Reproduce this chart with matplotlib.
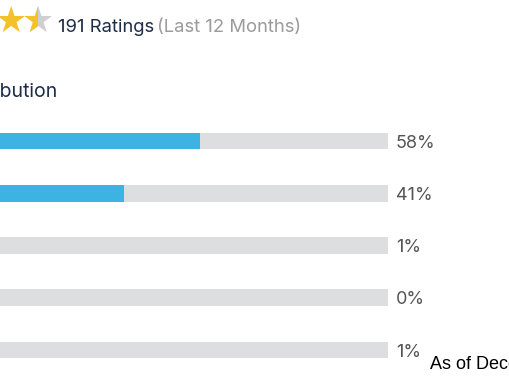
import matplotlib
matplotlib.use("Agg")
import matplotlib.pyplot as plt
from matplotlib.transforms import Bbox, TransformedBbox

# data
ratings = ["5 stars", "4 stars", "3 stars", "2 stars", "1 star"]
percent = [58, 41, 1, 0, 1]
n_ratings = 191
period = "(Last 12 Months)"
title = "Rating Distribution"
footer = "As of December"

W, H = 510, 382
navy = "#1d2d48"
grey_txt = "#555555"
light_txt = "#9b9b9b"
track = "#dcdee0"
blue = "#3db3e3"
gold = "#f3c22a"

plt.rcParams["font.family"] = ["Inter", "DejaVu Sans"]


def fx(px):
    return px / W


def fy(py):
    return 1 - py / H


fig = plt.figure(figsize=(W / 100, H / 100), dpi=100)

# star row (partly cut at the left edge like the screenshot)
star_kw = dict(family="DejaVu Sans", fontsize=26, ha="center", va="center")
fig.text(fx(11), fy(22), "\u2605", color=gold, **star_kw)
fig.text(fx(37.5), fy(22), "\u2605", color="#cfcfcf", **star_kw)
half = fig.text(fx(37.5), fy(22), "\u2605", color=gold, **star_kw)
half.set_clip_box(TransformedBbox(Bbox.from_extents(0, 0, fx(37.5), 1), fig.transFigure))
half.set_clip_on(True)

fig.text(fx(58), fy(32), f"{n_ratings} Ratings", fontsize=13.3, color=navy, va="baseline")
fig.text(fx(157), fy(32), period, fontsize=13.3, color=light_txt, va="baseline")

fig.text(fx(57), fy(97), title, fontsize=14, color=navy, ha="right", va="baseline")

# bars, axes starts off the left edge
ax = fig.add_axes([fx(-59), fy(376), 447 / W, (376 - 115) / H])
y = list(range(len(ratings)))
ax.barh(y, [100] * len(ratings), height=0.32, color=track)
ax.barh(y, percent, height=0.32, color=blue)
ax.set_xlim(0, 100)
ax.set_ylim(len(ratings) - 0.5, -0.5)
ax.axis("off")

for i, p in enumerate(percent):
    ax.annotate(f"{p}%", (100, i), xytext=(5.8, -4.8), textcoords="offset points",
                fontsize=13, color=grey_txt, va="baseline", ha="left")

fig.text(fx(430), fy(369), footer, family=["Liberation Sans", "DejaVu Sans"],
         fontsize=13, color="black", va="baseline")

fig.savefig("out.png", dpi=100)
